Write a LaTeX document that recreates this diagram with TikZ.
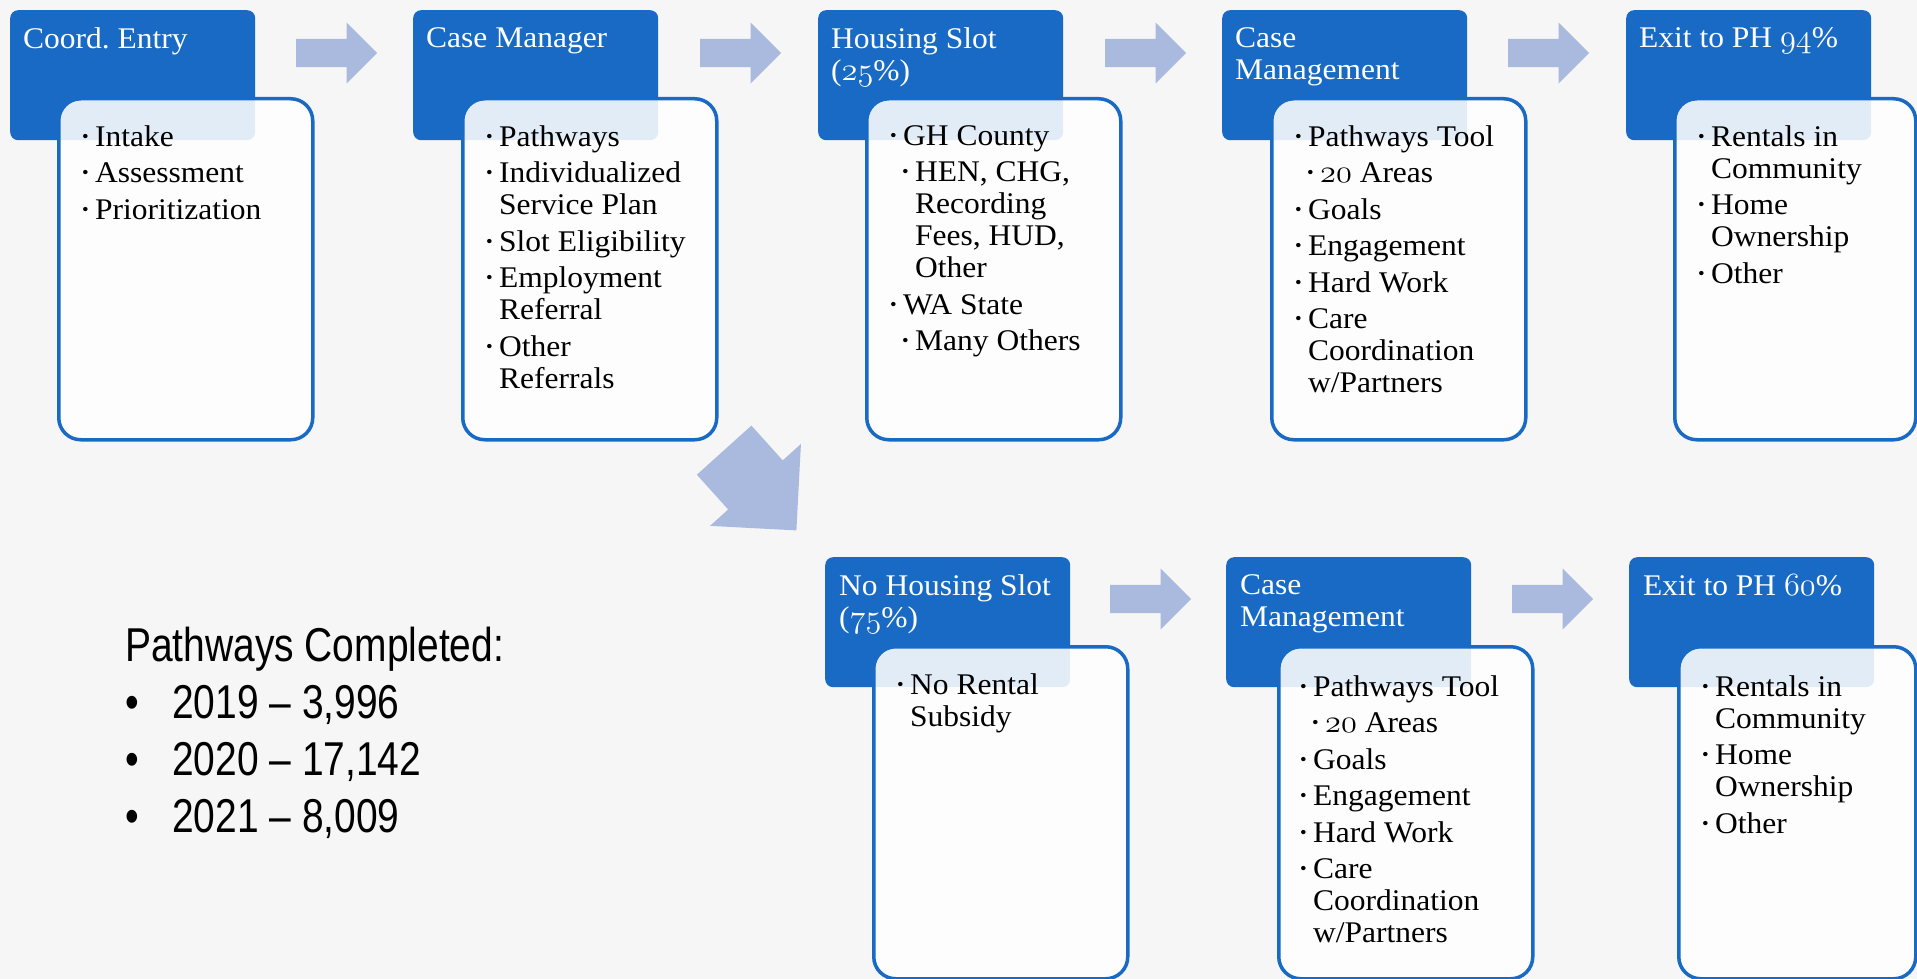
\documentclass[tikz,border=0pt]{standalone}
\usepackage{fontspec}
\usetikzlibrary{shapes.arrows}
\setmainfont{Liberation Serif}[FakeStretch=1.05]
\newfontfamily\statsfont{Liberation Sans}[FakeStretch=0.82]
\definecolor{hdrblue}{RGB}{24,106,196}
\definecolor{arrowblue}{RGB}{170,185,222}
\definecolor{pagegray}{RGB}{246,246,246}
\newcommand\osn[1]{\scalebox{1.3}{\fontencoding{OML}\fontfamily{lmm}\fontseries{b}\fontshape{it}\selectfont #1}}
\newcommand\bl{\makebox[13pt][l]{\raisebox{4pt}{\fontsize{18}{18}\selectfont\textbullet}}}
\newcommand\sbl{\hspace*{12pt}\bl}
\newcommand\ind{\hspace*{13pt}}
\newcommand\sind{\hspace*{25pt}}

\begin{document}
\begin{tikzpicture}[x=1pt,y=-1pt,
	hdr/.style={fill=hdrblue,rounded corners=8pt,minimum width=245pt,minimum height=130pt,anchor=north west,inner sep=0pt},
	box/.style={draw=hdrblue,line width=3.5pt,fill=white,fill opacity=0.88,rounded corners=22pt,minimum width=254pt,anchor=north west,inner sep=0pt},
	hdrtxt/.style={text=white,anchor=north west,inner sep=0pt,align=left,font=\fontsize{30}{32}\selectfont},
	boxtxt/.style={anchor=north west,inner sep=0pt,align=left,font=\fontsize{30}{32}\selectfont},
	statstxt/.style={anchor=north west,inner sep=0pt,align=left,font=\statsfont\fontsize{47.5}{57}\selectfont},
	barrow/.style={single arrow,fill=arrowblue,inner xsep=0pt,inner ysep=14pt,single arrow head extend=16.5pt,minimum height=81pt,minimum width=0pt,anchor=tail}]
			\clip (0,0) rectangle (1917,979);
			\fill[pagegray] (0,0) rectangle (1917,979);
			\node[hdr] (h1) at (10,10) {};
			\node[hdr] (h2) at (413,10) {};
			\node[hdr] (h3) at (818,10) {};
			\node[hdr] (h4) at (1222,10) {};
			\node[hdr] (h5) at (1626,10) {};
			\node[hdr] (h6) at (825,557) {};
			\node[hdr] (h7) at (1226,557) {};
			\node[hdr] (h8) at (1629,557) {};
			\node[hdrtxt] (h1t) at (23,27) {Coord.\ Entry};
			\node[hdrtxt] (h2t) at (426,27) {Case Manager};
			\node[hdrtxt] (h3t) at (831,27) {Housing Slot\\(\osn{25}\%)};
			\node[hdrtxt] (h4t) at (1235,27) {Case\\Management};
			\node[hdrtxt] (h5t) at (1639,27) {Exit to PH \osn{94}\%};
			\node[hdrtxt] (h6t) at (839,574) {No Housing Slot\\(\osn{75}\%)};
			\node[hdrtxt] (h7t) at (1240,574) {Case\\Management};
			\node[hdrtxt] (h8t) at (1643,574) {Exit to PH \osn{60}\%};
			\node[box,minimum height=341pt] (c1) at (57,97) {};
			\node[box,minimum height=341pt] (c2) at (461,97) {};
			\node[box,minimum height=341pt] (c3) at (865,97) {};
			\node[box,minimum height=341pt] (c4) at (1270,97) {};
			\node[box,minimum height=341pt,minimum width=241pt] (c5) at (1673,97) {};
			\node[box,minimum height=332pt] (c6) at (872,645) {};
			\node[box,minimum height=332pt] (c7) at (1277,645) {};
			\node[box,minimum height=332pt,minimum width=237pt] (c8) at (1677,645) {};
			\node[boxtxt] (c1t) at (82,125) {\bl Intake\\[4.5pt]\bl Assessment\\[4.5pt]\bl Prioritization};
			\node[boxtxt] (c2t) at (486,125) {\bl Pathways\\[4.5pt]\bl Individualized\\\ind Service Plan\\[4.5pt]\bl Slot Eligibility\\[4.5pt]\bl Employment\\\ind Referral\\[4.5pt]\bl Other\\\ind Referrals};
			\node[boxtxt] (c3t) at (890,125) {\bl GH County\\[4.5pt]\sbl HEN, CHG,\\\sind Recording\\\sind Fees, HUD,\\\sind Other\\[4.5pt]\bl WA State\\[4.5pt]\sbl Many Others};
			\node[boxtxt] (c4t) at (1295,125) {\bl Pathways Tool\\[4.5pt]\sbl\osn{20} Areas\\[4.5pt]\bl Goals\\[4.5pt]\bl Engagement\\[4.5pt]\bl Hard Work\\[4.5pt]\bl Care\\\ind Coordination\\\ind w/Partners};
			\node[boxtxt] (c5t) at (1698,125) {\bl Rentals in\\\ind Community\\[4.5pt]\bl Home\\\ind Ownership\\[4.5pt]\bl Other};
			\node[boxtxt] (c6t) at (897,673) {\bl No Rental\\\ind Subsidy};
			\node[boxtxt] (c7t) at (1300,675) {\bl Pathways Tool\\[4.5pt]\sbl\osn{20} Areas\\[4.5pt]\bl Goals\\[4.5pt]\bl Engagement\\[4.5pt]\bl Hard Work\\[4.5pt]\bl Care\\\ind Coordination\\\ind w/Partners};
			\node[boxtxt] (c8t) at (1702,675) {\bl Rentals in\\\ind Community\\[4.5pt]\bl Home\\\ind Ownership\\[4.5pt]\bl Other};
			\node[barrow] (a1) at (296,53) {};
			\node[barrow] (a2) at (700,53) {};
			\node[barrow] (a3) at (1105,53) {};
			\node[barrow] (a4) at (1508,53) {};
			\node[barrow,minimum height=108pt,inner ysep=36.5pt,single arrow head extend=24.5pt,rotate=-48] (a5) at (724,450) {};
			\node[barrow] (a6) at (1110,599) {};
			\node[barrow] (a7) at (1512,599) {};
			\node[statstxt] (stats) at (125,627) {Pathways Completed:\\\makebox[47pt][l]{\textbullet}2019 \textendash{} 3,996\\\makebox[47pt][l]{\textbullet}2020 \textendash{} 17,142\\\makebox[47pt][l]{\textbullet}2021 \textendash{} 8,009};
		\end{tikzpicture}
\end{document}
